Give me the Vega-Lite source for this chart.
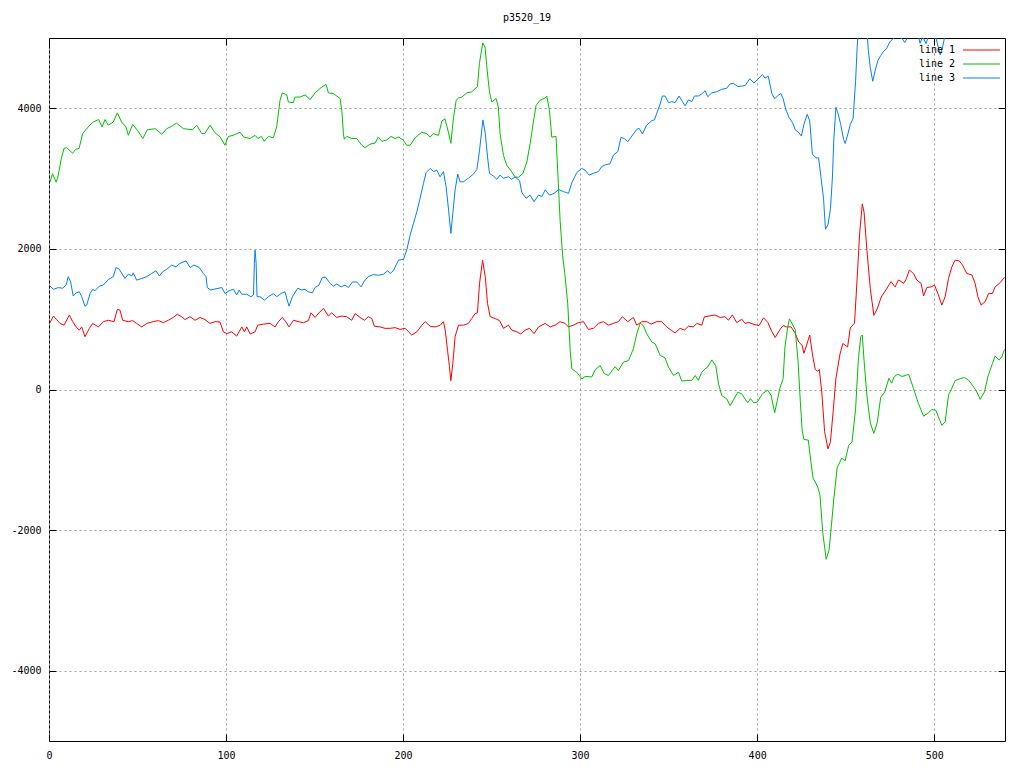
{
  "$schema": "https://vega.github.io/schema/vega-lite/v6.json",
  "width": 956,
  "height": 703,
  "autosize": {"type": "none"},
  "padding": {"left": 49, "top": 38, "right": 19, "bottom": 27},
  "background": "white",
  "title": {"text": "p3520_19", "font": "DejaVu Sans Mono", "fontSize": 10, "fontWeight": "normal", "color": "black", "offset": 15, "anchor": "middle"},
  "config": {
    "view": {"stroke": "black", "strokeWidth": 1},
    "axis": {
      "domain": false,
      "labelFont": "DejaVu Sans Mono",
      "labelFontSize": 10,
      "labelColor": "black",
      "tickColor": "black",
      "tickWidth": 1,
      "tickSize": -7,
      "gridColor": "#a0a0a0",
      "gridDash": [2, 3],
      "gridWidth": 1,
      "labelFlush": false,
      "labelOverlap": false,
      "title": null
    }
  },
  "data": {"values": [
{"s":"line 1","x":0.6,"v":950},{"s":"line 1","x":2.5,"v":1045},{"s":"line 1","x":4.3,"v":995},{"s":"line 1","x":6.2,"v":940},{"s":"line 1","x":8.5,"v":915},{"s":"line 1","x":11.5,"v":1060},{"s":"line 1","x":13.4,"v":965},{"s":"line 1","x":15.3,"v":890},{"s":"line 1","x":17.1,"v":845},{"s":"line 1","x":18.5,"v":890},{"s":"line 1","x":20.3,"v":750},{"s":"line 1","x":22.8,"v":870},{"s":"line 1","x":24.7,"v":940},{"s":"line 1","x":27.9,"v":890},{"s":"line 1","x":30.7,"v":965},{"s":"line 1","x":33.5,"v":985},{"s":"line 1","x":36.7,"v":965},{"s":"line 1","x":38.6,"v":1140},{"s":"line 1","x":40.1,"v":1130},{"s":"line 1","x":41.6,"v":985},{"s":"line 1","x":44.8,"v":965},{"s":"line 1","x":47.3,"v":980},{"s":"line 1","x":49.5,"v":940},{"s":"line 1","x":52.4,"v":890},{"s":"line 1","x":55.2,"v":940},{"s":"line 1","x":58.9,"v":965},{"s":"line 1","x":61.8,"v":980},{"s":"line 1","x":64.6,"v":950},{"s":"line 1","x":67.4,"v":985},{"s":"line 1","x":70.2,"v":1025},{"s":"line 1","x":72.5,"v":1070},{"s":"line 1","x":74.9,"v":1035},{"s":"line 1","x":76.8,"v":995},{"s":"line 1","x":79.6,"v":1035},{"s":"line 1","x":82.5,"v":985},{"s":"line 1","x":85.3,"v":1025},{"s":"line 1","x":88.1,"v":995},{"s":"line 1","x":91,"v":940},{"s":"line 1","x":93.8,"v":965},{"s":"line 1","x":96.6,"v":960},{"s":"line 1","x":98.5,"v":820},{"s":"line 1","x":100.4,"v":795},{"s":"line 1","x":103.2,"v":820},{"s":"line 1","x":106,"v":760},{"s":"line 1","x":108.9,"v":890},{"s":"line 1","x":110.4,"v":820},{"s":"line 1","x":111.7,"v":890},{"s":"line 1","x":113.6,"v":790},{"s":"line 1","x":116.4,"v":820},{"s":"line 1","x":117.9,"v":915},{"s":"line 1","x":121.1,"v":930},{"s":"line 1","x":124.9,"v":940},{"s":"line 1","x":127.7,"v":890},{"s":"line 1","x":129.6,"v":965},{"s":"line 1","x":131.8,"v":1025},{"s":"line 1","x":133.7,"v":965},{"s":"line 1","x":135.6,"v":890},{"s":"line 1","x":138.1,"v":985},{"s":"line 1","x":140.9,"v":965},{"s":"line 1","x":143.7,"v":950},{"s":"line 1","x":146.5,"v":980},{"s":"line 1","x":148,"v":1090},{"s":"line 1","x":150.3,"v":1025},{"s":"line 1","x":152.5,"v":1090},{"s":"line 1","x":155,"v":1155},{"s":"line 1","x":157.8,"v":1045},{"s":"line 1","x":159.7,"v":1090},{"s":"line 1","x":162.5,"v":1025},{"s":"line 1","x":165.4,"v":1045},{"s":"line 1","x":168.2,"v":1035},{"s":"line 1","x":171,"v":985},{"s":"line 1","x":172.9,"v":1080},{"s":"line 1","x":175.7,"v":1025},{"s":"line 1","x":178.2,"v":985},{"s":"line 1","x":180.4,"v":1035},{"s":"line 1","x":182.3,"v":1010},{"s":"line 1","x":183.8,"v":900},{"s":"line 1","x":187,"v":890},{"s":"line 1","x":189.8,"v":870},{"s":"line 1","x":192.7,"v":870},{"s":"line 1","x":195.5,"v":880},{"s":"line 1","x":198.3,"v":855},{"s":"line 1","x":201.2,"v":870},{"s":"line 1","x":203.1,"v":820},{"s":"line 1","x":204.9,"v":775},{"s":"line 1","x":207.8,"v":820},{"s":"line 1","x":210.6,"v":915},{"s":"line 1","x":212.5,"v":965},{"s":"line 1","x":215.3,"v":900},{"s":"line 1","x":218.1,"v":890},{"s":"line 1","x":221,"v":915},{"s":"line 1","x":222.8,"v":965},{"s":"line 1","x":223.8,"v":845},{"s":"line 1","x":225.1,"v":560},{"s":"line 1","x":226.2,"v":325},{"s":"line 1","x":227,"v":125},{"s":"line 1","x":228.1,"v":370},{"s":"line 1","x":229.4,"v":750},{"s":"line 1","x":231.3,"v":915},{"s":"line 1","x":234.1,"v":915},{"s":"line 1","x":236.9,"v":940},{"s":"line 1","x":238.8,"v":1010},{"s":"line 1","x":240.7,"v":1080},{"s":"line 1","x":242,"v":1090},{"s":"line 1","x":243.2,"v":1510},{"s":"line 1","x":244.9,"v":1840},{"s":"line 1","x":246.4,"v":1605},{"s":"line 1","x":247.7,"v":1225},{"s":"line 1","x":249.2,"v":1035},{"s":"line 1","x":252,"v":1010},{"s":"line 1","x":254.5,"v":980},{"s":"line 1","x":256.7,"v":870},{"s":"line 1","x":259.5,"v":915},{"s":"line 1","x":261.4,"v":845},{"s":"line 1","x":264.3,"v":820},{"s":"line 1","x":266.5,"v":790},{"s":"line 1","x":269,"v":845},{"s":"line 1","x":271.4,"v":870},{"s":"line 1","x":274,"v":795},{"s":"line 1","x":276.5,"v":890},{"s":"line 1","x":280.3,"v":940},{"s":"line 1","x":283.1,"v":890},{"s":"line 1","x":285.9,"v":915},{"s":"line 1","x":288.7,"v":965},{"s":"line 1","x":291.5,"v":940},{"s":"line 1","x":293.4,"v":890},{"s":"line 1","x":296.2,"v":915},{"s":"line 1","x":299,"v":950},{"s":"line 1","x":301.9,"v":965},{"s":"line 1","x":304.7,"v":855},{"s":"line 1","x":307.5,"v":870},{"s":"line 1","x":310.3,"v":940},{"s":"line 1","x":313.2,"v":965},{"s":"line 1","x":316,"v":915},{"s":"line 1","x":318.8,"v":940},{"s":"line 1","x":321.6,"v":965},{"s":"line 1","x":323.9,"v":1035},{"s":"line 1","x":326.9,"v":965},{"s":"line 1","x":330.1,"v":1025},{"s":"line 1","x":332,"v":915},{"s":"line 1","x":334.8,"v":965},{"s":"line 1","x":337.6,"v":965},{"s":"line 1","x":340.1,"v":930},{"s":"line 1","x":343.3,"v":965},{"s":"line 1","x":346.1,"v":965},{"s":"line 1","x":348.9,"v":890},{"s":"line 1","x":351.4,"v":845},{"s":"line 1","x":353.6,"v":805},{"s":"line 1","x":356.5,"v":870},{"s":"line 1","x":358.9,"v":845},{"s":"line 1","x":361.2,"v":900},{"s":"line 1","x":364,"v":890},{"s":"line 1","x":365.9,"v":940},{"s":"line 1","x":368.7,"v":915},{"s":"line 1","x":370.2,"v":1035},{"s":"line 1","x":372.8,"v":1045},{"s":"line 1","x":376.2,"v":1060},{"s":"line 1","x":379.1,"v":1025},{"s":"line 1","x":381.9,"v":1035},{"s":"line 1","x":383.8,"v":985},{"s":"line 1","x":386,"v":1060},{"s":"line 1","x":388.5,"v":950},{"s":"line 1","x":391.3,"v":1000},{"s":"line 1","x":393.2,"v":940},{"s":"line 1","x":395.3,"v":955},{"s":"line 1","x":398.2,"v":925},{"s":"line 1","x":401.1,"v":910},{"s":"line 1","x":403.6,"v":1020},{"s":"line 1","x":406,"v":955},{"s":"line 1","x":408.3,"v":825},{"s":"line 1","x":410.2,"v":740},{"s":"line 1","x":412.8,"v":850},{"s":"line 1","x":414.7,"v":910},{"s":"line 1","x":416.7,"v":890},{"s":"line 1","x":419.2,"v":890},{"s":"line 1","x":421.5,"v":800},{"s":"line 1","x":423.5,"v":675},{"s":"line 1","x":425.4,"v":630},{"s":"line 1","x":426.4,"v":515},{"s":"line 1","x":427.9,"v":630},{"s":"line 1","x":429.7,"v":775},{"s":"line 1","x":431.2,"v":505},{"s":"line 1","x":432.8,"v":285},{"s":"line 1","x":434.2,"v":260},{"s":"line 1","x":435.1,"v":285},{"s":"line 1","x":436.5,"v":-35},{"s":"line 1","x":438.1,"v":-600},{"s":"line 1","x":440,"v":-845},{"s":"line 1","x":441.4,"v":-745},{"s":"line 1","x":442.9,"v":-320},{"s":"line 1","x":444.5,"v":160},{"s":"line 1","x":446.8,"v":505},{"s":"line 1","x":448.4,"v":655},{"s":"line 1","x":451.1,"v":605},{"s":"line 1","x":452.6,"v":875},{"s":"line 1","x":455,"v":945},{"s":"line 1","x":456.5,"v":1585},{"s":"line 1","x":457.9,"v":2225},{"s":"line 1","x":459.4,"v":2640},{"s":"line 1","x":460.4,"v":2520},{"s":"line 1","x":462,"v":1980},{"s":"line 1","x":463.9,"v":1440},{"s":"line 1","x":465.9,"v":1055},{"s":"line 1","x":467.8,"v":1145},{"s":"line 1","x":470.1,"v":1315},{"s":"line 1","x":473.1,"v":1430},{"s":"line 1","x":475.6,"v":1535},{"s":"line 1","x":477.9,"v":1460},{"s":"line 1","x":479.9,"v":1560},{"s":"line 1","x":482.8,"v":1510},{"s":"line 1","x":484,"v":1560},{"s":"line 1","x":486,"v":1700},{"s":"line 1","x":488.3,"v":1650},{"s":"line 1","x":490.2,"v":1555},{"s":"line 1","x":492.6,"v":1510},{"s":"line 1","x":494,"v":1330},{"s":"line 1","x":495.8,"v":1450},{"s":"line 1","x":498.3,"v":1460},{"s":"line 1","x":500.2,"v":1485},{"s":"line 1","x":502.4,"v":1345},{"s":"line 1","x":504.3,"v":1200},{"s":"line 1","x":506.2,"v":1320},{"s":"line 1","x":508.1,"v":1580},{"s":"line 1","x":510,"v":1745},{"s":"line 1","x":511.8,"v":1840},{"s":"line 1","x":514.1,"v":1830},{"s":"line 1","x":516,"v":1770},{"s":"line 1","x":518.4,"v":1650},{"s":"line 1","x":521.3,"v":1630},{"s":"line 1","x":523.1,"v":1510},{"s":"line 1","x":524.7,"v":1320},{"s":"line 1","x":526.5,"v":1200},{"s":"line 1","x":528.8,"v":1250},{"s":"line 1","x":530.7,"v":1365},{"s":"line 1","x":532.9,"v":1365},{"s":"line 1","x":534.4,"v":1460},{"s":"line 1","x":537.3,"v":1520},{"s":"line 1","x":539.7,"v":1595},
{"s":"line 2","x":0.6,"v":2950},{"s":"line 2","x":2,"v":3070},{"s":"line 2","x":4,"v":2950},{"s":"line 2","x":5,"v":3020},{"s":"line 2","x":7,"v":3290},{"s":"line 2","x":8.5,"v":3430},{"s":"line 2","x":10,"v":3440},{"s":"line 2","x":13.4,"v":3360},{"s":"line 2","x":15,"v":3415},{"s":"line 2","x":17,"v":3430},{"s":"line 2","x":19,"v":3640},{"s":"line 2","x":21,"v":3700},{"s":"line 2","x":23,"v":3760},{"s":"line 2","x":25,"v":3805},{"s":"line 2","x":28,"v":3840},{"s":"line 2","x":30,"v":3735},{"s":"line 2","x":31.6,"v":3840},{"s":"line 2","x":33.5,"v":3760},{"s":"line 2","x":36.3,"v":3805},{"s":"line 2","x":38.6,"v":3935},{"s":"line 2","x":41,"v":3805},{"s":"line 2","x":43.5,"v":3735},{"s":"line 2","x":44.8,"v":3615},{"s":"line 2","x":47.3,"v":3770},{"s":"line 2","x":50,"v":3685},{"s":"line 2","x":53,"v":3570},{"s":"line 2","x":55.5,"v":3695},{"s":"line 2","x":60,"v":3710},{"s":"line 2","x":63.7,"v":3630},{"s":"line 2","x":66.5,"v":3710},{"s":"line 2","x":69.3,"v":3745},{"s":"line 2","x":72,"v":3790},{"s":"line 2","x":75.9,"v":3710},{"s":"line 2","x":81,"v":3695},{"s":"line 2","x":83.4,"v":3760},{"s":"line 2","x":86.3,"v":3640},{"s":"line 2","x":88,"v":3640},{"s":"line 2","x":91,"v":3760},{"s":"line 2","x":93.8,"v":3650},{"s":"line 2","x":96.6,"v":3595},{"s":"line 2","x":99.4,"v":3475},{"s":"line 2","x":101.3,"v":3600},{"s":"line 2","x":104,"v":3615},{"s":"line 2","x":108,"v":3660},{"s":"line 2","x":110,"v":3590},{"s":"line 2","x":113.6,"v":3570},{"s":"line 2","x":116.4,"v":3615},{"s":"line 2","x":118,"v":3570},{"s":"line 2","x":120,"v":3600},{"s":"line 2","x":121.6,"v":3530},{"s":"line 2","x":124,"v":3600},{"s":"line 2","x":126.7,"v":3580},{"s":"line 2","x":128.6,"v":3735},{"s":"line 2","x":130.5,"v":4115},{"s":"line 2","x":131.8,"v":4220},{"s":"line 2","x":134.3,"v":4190},{"s":"line 2","x":135.2,"v":4090},{"s":"line 2","x":138,"v":4080},{"s":"line 2","x":139,"v":4160},{"s":"line 2","x":141.8,"v":4160},{"s":"line 2","x":144.6,"v":4190},{"s":"line 2","x":147.5,"v":4125},{"s":"line 2","x":150.3,"v":4220},{"s":"line 2","x":153.7,"v":4295},{"s":"line 2","x":156.5,"v":4340},{"s":"line 2","x":157.8,"v":4220},{"s":"line 2","x":160.6,"v":4210},{"s":"line 2","x":164.4,"v":4140},{"s":"line 2","x":165.4,"v":3970},{"s":"line 2","x":166.3,"v":3640},{"s":"line 2","x":166.8,"v":3560},{"s":"line 2","x":168.2,"v":3600},{"s":"line 2","x":171,"v":3570},{"s":"line 2","x":173.8,"v":3570},{"s":"line 2","x":176.7,"v":3475},{"s":"line 2","x":178.5,"v":3440},{"s":"line 2","x":181.4,"v":3490},{"s":"line 2","x":184.2,"v":3505},{"s":"line 2","x":186,"v":3590},{"s":"line 2","x":188,"v":3530},{"s":"line 2","x":190.8,"v":3550},{"s":"line 2","x":193.2,"v":3600},{"s":"line 2","x":195.5,"v":3570},{"s":"line 2","x":197.6,"v":3590},{"s":"line 2","x":200.2,"v":3545},{"s":"line 2","x":202,"v":3475},{"s":"line 2","x":204,"v":3475},{"s":"line 2","x":206.8,"v":3580},{"s":"line 2","x":210.5,"v":3660},{"s":"line 2","x":213.4,"v":3640},{"s":"line 2","x":215.3,"v":3590},{"s":"line 2","x":217,"v":3640},{"s":"line 2","x":220,"v":3615},{"s":"line 2","x":221.9,"v":3820},{"s":"line 2","x":223.7,"v":3850},{"s":"line 2","x":225.6,"v":3660},{"s":"line 2","x":227,"v":3500},{"s":"line 2","x":228.4,"v":3850},{"s":"line 2","x":230,"v":4115},{"s":"line 2","x":231.3,"v":4145},{"s":"line 2","x":233.2,"v":4160},{"s":"line 2","x":236,"v":4220},{"s":"line 2","x":238.8,"v":4235},{"s":"line 2","x":240.7,"v":4280},{"s":"line 2","x":242,"v":4305},{"s":"line 2","x":243.1,"v":4635},{"s":"line 2","x":245,"v":4930},{"s":"line 2","x":246.3,"v":4870},{"s":"line 2","x":247.3,"v":4590},{"s":"line 2","x":248.8,"v":4235},{"s":"line 2","x":250.1,"v":4090},{"s":"line 2","x":252.5,"v":4140},{"s":"line 2","x":253.8,"v":4020},{"s":"line 2","x":254.8,"v":3640},{"s":"line 2","x":256.7,"v":3330},{"s":"line 2","x":258.6,"v":3190},{"s":"line 2","x":261.4,"v":3095},{"s":"line 2","x":263.3,"v":3020},{"s":"line 2","x":265.2,"v":3020},{"s":"line 2","x":267.6,"v":3070},{"s":"line 2","x":269.9,"v":3235},{"s":"line 2","x":271.8,"v":3500},{"s":"line 2","x":273.6,"v":3805},{"s":"line 2","x":275.1,"v":4040},{"s":"line 2","x":277.4,"v":4115},{"s":"line 2","x":279.7,"v":4140},{"s":"line 2","x":281.2,"v":4170},{"s":"line 2","x":282.7,"v":3970},{"s":"line 2","x":284,"v":3590},{"s":"line 2","x":286.4,"v":3600},{"s":"line 2","x":287.7,"v":2930},{"s":"line 2","x":288.7,"v":2405},{"s":"line 2","x":290.2,"v":1885},{"s":"line 2","x":291.5,"v":1620},{"s":"line 2","x":293,"v":1220},{"s":"line 2","x":294.4,"v":555},{"s":"line 2","x":295.3,"v":295},{"s":"line 2","x":298.1,"v":245},{"s":"line 2","x":301,"v":150},{"s":"line 2","x":302.8,"v":185},{"s":"line 2","x":306.6,"v":180},{"s":"line 2","x":308.5,"v":280},{"s":"line 2","x":311.3,"v":340},{"s":"line 2","x":313.7,"v":225},{"s":"line 2","x":316,"v":200},{"s":"line 2","x":319.8,"v":325},{"s":"line 2","x":321.6,"v":270},{"s":"line 2","x":324.5,"v":390},{"s":"line 2","x":327.3,"v":410},{"s":"line 2","x":330.1,"v":580},{"s":"line 2","x":332,"v":790},{"s":"line 2","x":333.9,"v":945},{"s":"line 2","x":335.8,"v":905},{"s":"line 2","x":337.7,"v":790},{"s":"line 2","x":340.5,"v":675},{"s":"line 2","x":342.4,"v":650},{"s":"line 2","x":345.2,"v":485},{"s":"line 2","x":348,"v":450},{"s":"line 2","x":349.9,"v":320},{"s":"line 2","x":352.7,"v":200},{"s":"line 2","x":355.6,"v":245},{"s":"line 2","x":357.4,"v":120},{"s":"line 2","x":360.3,"v":130},{"s":"line 2","x":363.1,"v":130},{"s":"line 2","x":365,"v":200},{"s":"line 2","x":366.8,"v":130},{"s":"line 2","x":368.7,"v":245},{"s":"line 2","x":370.6,"v":295},{"s":"line 2","x":372.1,"v":320},{"s":"line 2","x":374.4,"v":420},{"s":"line 2","x":376.6,"v":340},{"s":"line 2","x":378.2,"v":80},{"s":"line 2","x":380,"v":-85},{"s":"line 2","x":382.9,"v":-135},{"s":"line 2","x":384.7,"v":-230},{"s":"line 2","x":386.6,"v":-150},{"s":"line 2","x":389,"v":-40},{"s":"line 2","x":391.3,"v":-60},{"s":"line 2","x":393.3,"v":-140},{"s":"line 2","x":394.7,"v":-190},{"s":"line 2","x":396.2,"v":-130},{"s":"line 2","x":398.2,"v":-190},{"s":"line 2","x":400.1,"v":-180},{"s":"line 2","x":403,"v":-60},{"s":"line 2","x":406,"v":-10},{"s":"line 2","x":407.9,"v":-85},{"s":"line 2","x":409.9,"v":-330},{"s":"line 2","x":411.4,"v":-155},{"s":"line 2","x":412.8,"v":15},{"s":"line 2","x":414.7,"v":160},{"s":"line 2","x":415.7,"v":605},{"s":"line 2","x":417.2,"v":875},{"s":"line 2","x":418.2,"v":1005},{"s":"line 2","x":419.6,"v":945},{"s":"line 2","x":421.5,"v":850},{"s":"line 2","x":423.1,"v":405},{"s":"line 2","x":424.4,"v":-180},{"s":"line 2","x":425.4,"v":-575},{"s":"line 2","x":426.4,"v":-710},{"s":"line 2","x":428.9,"v":-720},{"s":"line 2","x":430.3,"v":-1015},{"s":"line 2","x":431.6,"v":-1260},{"s":"line 2","x":434.2,"v":-1385},{"s":"line 2","x":435.5,"v":-1505},{"s":"line 2","x":437.1,"v":-2045},{"s":"line 2","x":439,"v":-2415},{"s":"line 2","x":440.6,"v":-2290},{"s":"line 2","x":441.9,"v":-1950},{"s":"line 2","x":443.3,"v":-1555},{"s":"line 2","x":445.2,"v":-1115},{"s":"line 2","x":447.8,"v":-975},{"s":"line 2","x":449.7,"v":-1015},{"s":"line 2","x":451.7,"v":-795},{"s":"line 2","x":453.6,"v":-745},{"s":"line 2","x":455.6,"v":-280},{"s":"line 2","x":457.1,"v":405},{"s":"line 2","x":458.5,"v":750},{"s":"line 2","x":459.4,"v":775},{"s":"line 2","x":460.4,"v":405},{"s":"line 2","x":462,"v":-85},{"s":"line 2","x":463.9,"v":-475},{"s":"line 2","x":465.9,"v":-625},{"s":"line 2","x":467.8,"v":-475},{"s":"line 2","x":469.8,"v":-110},{"s":"line 2","x":472.1,"v":-35},{"s":"line 2","x":474.4,"v":160},{"s":"line 2","x":476,"v":90},{"s":"line 2","x":477.5,"v":185},{"s":"line 2","x":479.5,"v":220},{"s":"line 2","x":481.8,"v":185},{"s":"line 2","x":483.7,"v":200},{"s":"line 2","x":485.6,"v":215},{"s":"line 2","x":488.3,"v":15},{"s":"line 2","x":491.1,"v":-200},{"s":"line 2","x":494,"v":-380},{"s":"line 2","x":496.8,"v":-330},{"s":"line 2","x":498.7,"v":-285},{"s":"line 2","x":500.9,"v":-295},{"s":"line 2","x":502.4,"v":-390},{"s":"line 2","x":504.3,"v":-510},{"s":"line 2","x":506.2,"v":-460},{"s":"line 2","x":508.1,"v":-80},{"s":"line 2","x":509.9,"v":15},{"s":"line 2","x":511.8,"v":125},{"s":"line 2","x":514.7,"v":155},{"s":"line 2","x":517.1,"v":170},{"s":"line 2","x":519.4,"v":135},{"s":"line 2","x":522.2,"v":40},{"s":"line 2","x":524.1,"v":-35},{"s":"line 2","x":526,"v":-140},{"s":"line 2","x":528.4,"v":-35},{"s":"line 2","x":530.3,"v":180},{"s":"line 2","x":532.9,"v":370},{"s":"line 2","x":534.4,"v":475},{"s":"line 2","x":536.7,"v":420},{"s":"line 2","x":538.2,"v":465},{"s":"line 2","x":539.7,"v":570},
{"s":"line 3","x":0.6,"v":1470},{"s":"line 3","x":2.5,"v":1425},{"s":"line 3","x":5.3,"v":1450},{"s":"line 3","x":7.7,"v":1440},{"s":"line 3","x":9.6,"v":1485},{"s":"line 3","x":10.9,"v":1605},{"s":"line 3","x":12.2,"v":1530},{"s":"line 3","x":13.7,"v":1330},{"s":"line 3","x":15.3,"v":1375},{"s":"line 3","x":17.1,"v":1390},{"s":"line 3","x":18.5,"v":1320},{"s":"line 3","x":20.3,"v":1185},{"s":"line 3","x":21.3,"v":1200},{"s":"line 3","x":23.2,"v":1365},{"s":"line 3","x":24.7,"v":1425},{"s":"line 3","x":26,"v":1405},{"s":"line 3","x":28.4,"v":1470},{"s":"line 3","x":30.7,"v":1485},{"s":"line 3","x":33.5,"v":1565},{"s":"line 3","x":36.3,"v":1605},{"s":"line 3","x":37.9,"v":1735},{"s":"line 3","x":39.7,"v":1710},{"s":"line 3","x":42.9,"v":1580},{"s":"line 3","x":44.8,"v":1640},{"s":"line 3","x":46.7,"v":1615},{"s":"line 3","x":47.6,"v":1660},{"s":"line 3","x":49.5,"v":1555},{"s":"line 3","x":52.4,"v":1580},{"s":"line 3","x":55.2,"v":1605},{"s":"line 3","x":58,"v":1650},{"s":"line 3","x":60.4,"v":1690},{"s":"line 3","x":62.3,"v":1615},{"s":"line 3","x":64.2,"v":1675},{"s":"line 3","x":66.5,"v":1710},{"s":"line 3","x":69.3,"v":1770},{"s":"line 3","x":71.7,"v":1745},{"s":"line 3","x":74,"v":1795},{"s":"line 3","x":77.4,"v":1830},{"s":"line 3","x":79.7,"v":1735},{"s":"line 3","x":81.9,"v":1770},{"s":"line 3","x":84.9,"v":1735},{"s":"line 3","x":87.2,"v":1650},{"s":"line 3","x":88.7,"v":1605},{"s":"line 3","x":89.4,"v":1450},{"s":"line 3","x":91.3,"v":1415},{"s":"line 3","x":93.8,"v":1430},{"s":"line 3","x":97.6,"v":1450},{"s":"line 3","x":99.4,"v":1365},{"s":"line 3","x":101.7,"v":1405},{"s":"line 3","x":104.2,"v":1425},{"s":"line 3","x":106,"v":1345},{"s":"line 3","x":107.4,"v":1415},{"s":"line 3","x":108.9,"v":1355},{"s":"line 3","x":111.7,"v":1355},{"s":"line 3","x":114.1,"v":1320},{"s":"line 3","x":115.5,"v":1345},{"s":"line 3","x":116,"v":1795},{"s":"line 3","x":116.4,"v":1985},{"s":"line 3","x":117,"v":1795},{"s":"line 3","x":117.5,"v":1320},{"s":"line 3","x":119.2,"v":1320},{"s":"line 3","x":121.7,"v":1270},{"s":"line 3","x":123.9,"v":1320},{"s":"line 3","x":126.8,"v":1365},{"s":"line 3","x":128.6,"v":1320},{"s":"line 3","x":131.1,"v":1365},{"s":"line 3","x":133.3,"v":1390},{"s":"line 3","x":134.3,"v":1295},{"s":"line 3","x":135.6,"v":1185},{"s":"line 3","x":137.5,"v":1320},{"s":"line 3","x":140.5,"v":1440},{"s":"line 3","x":142.8,"v":1415},{"s":"line 3","x":144.6,"v":1425},{"s":"line 3","x":146.5,"v":1390},{"s":"line 3","x":148.8,"v":1375},{"s":"line 3","x":150.3,"v":1450},{"s":"line 3","x":152.5,"v":1485},{"s":"line 3","x":154.4,"v":1595},{"s":"line 3","x":156.3,"v":1595},{"s":"line 3","x":158.8,"v":1510},{"s":"line 3","x":160.6,"v":1470},{"s":"line 3","x":162.5,"v":1500},{"s":"line 3","x":165,"v":1460},{"s":"line 3","x":167.2,"v":1485},{"s":"line 3","x":169.1,"v":1450},{"s":"line 3","x":171.4,"v":1530},{"s":"line 3","x":173.8,"v":1530},{"s":"line 3","x":176.3,"v":1460},{"s":"line 3","x":178.2,"v":1545},{"s":"line 3","x":180.4,"v":1605},{"s":"line 3","x":183.2,"v":1635},{"s":"line 3","x":186,"v":1625},{"s":"line 3","x":188.9,"v":1640},{"s":"line 3","x":191.3,"v":1690},{"s":"line 3","x":192.7,"v":1650},{"s":"line 3","x":194.5,"v":1690},{"s":"line 3","x":195.5,"v":1740},{"s":"line 3","x":197.4,"v":1840},{"s":"line 3","x":200.2,"v":1850},{"s":"line 3","x":202.1,"v":1985},{"s":"line 3","x":204,"v":2195},{"s":"line 3","x":205.9,"v":2365},{"s":"line 3","x":207.8,"v":2530},{"s":"line 3","x":209.6,"v":2720},{"s":"line 3","x":211.5,"v":2930},{"s":"line 3","x":213,"v":3085},{"s":"line 3","x":215.3,"v":3145},{"s":"line 3","x":217.2,"v":3100},{"s":"line 3","x":219.1,"v":3120},{"s":"line 3","x":220.9,"v":3025},{"s":"line 3","x":222.8,"v":3100},{"s":"line 3","x":224.3,"v":2885},{"s":"line 3","x":225.7,"v":2555},{"s":"line 3","x":227,"v":2220},{"s":"line 3","x":228.1,"v":2505},{"s":"line 3","x":229.4,"v":2840},{"s":"line 3","x":230.9,"v":3065},{"s":"line 3","x":232.2,"v":2955},{"s":"line 3","x":234.1,"v":2955},{"s":"line 3","x":236.9,"v":3005},{"s":"line 3","x":239.8,"v":3065},{"s":"line 3","x":241.7,"v":3130},{"s":"line 3","x":243.2,"v":3405},{"s":"line 3","x":245.1,"v":3835},{"s":"line 3","x":246.4,"v":3645},{"s":"line 3","x":247.7,"v":3310},{"s":"line 3","x":248.8,"v":3075},{"s":"line 3","x":251.1,"v":3035},{"s":"line 3","x":253,"v":2990},{"s":"line 3","x":254.8,"v":3050},{"s":"line 3","x":256.7,"v":3005},{"s":"line 3","x":259.5,"v":3025},{"s":"line 3","x":261.4,"v":2990},{"s":"line 3","x":263.3,"v":3025},{"s":"line 3","x":265.8,"v":2970},{"s":"line 3","x":267.1,"v":2800},{"s":"line 3","x":269.5,"v":2720},{"s":"line 3","x":271.8,"v":2765},{"s":"line 3","x":274,"v":2670},{"s":"line 3","x":276.5,"v":2765},{"s":"line 3","x":278.4,"v":2745},{"s":"line 3","x":280.3,"v":2840},{"s":"line 3","x":282.7,"v":2765},{"s":"line 3","x":285.3,"v":2790},{"s":"line 3","x":287.8,"v":2845},{"s":"line 3","x":290.6,"v":2815},{"s":"line 3","x":292.5,"v":2800},{"s":"line 3","x":293.5,"v":2790},{"s":"line 3","x":295.3,"v":2940},{"s":"line 3","x":298.1,"v":3085},{"s":"line 3","x":300.9,"v":3145},{"s":"line 3","x":302.8,"v":3120},{"s":"line 3","x":305.1,"v":3050},{"s":"line 3","x":307.5,"v":3075},{"s":"line 3","x":310.3,"v":3100},{"s":"line 3","x":312.2,"v":3170},{"s":"line 3","x":314.1,"v":3195},{"s":"line 3","x":316.9,"v":3210},{"s":"line 3","x":318.8,"v":3335},{"s":"line 3","x":321.3,"v":3385},{"s":"line 3","x":323.1,"v":3585},{"s":"line 3","x":325,"v":3570},{"s":"line 3","x":326.9,"v":3525},{"s":"line 3","x":329.2,"v":3605},{"s":"line 3","x":332,"v":3700},{"s":"line 3","x":333.3,"v":3715},{"s":"line 3","x":335.2,"v":3635},{"s":"line 3","x":337.6,"v":3760},{"s":"line 3","x":340.5,"v":3825},{"s":"line 3","x":342,"v":3835},{"s":"line 3","x":343.3,"v":3930},{"s":"line 3","x":345.2,"v":4060},{"s":"line 3","x":346.5,"v":4175},{"s":"line 3","x":348,"v":4175},{"s":"line 3","x":349.9,"v":4080},{"s":"line 3","x":351.8,"v":4095},{"s":"line 3","x":353.6,"v":4080},{"s":"line 3","x":355.9,"v":4175},{"s":"line 3","x":357.8,"v":4095},{"s":"line 3","x":359.3,"v":4035},{"s":"line 3","x":361.2,"v":4120},{"s":"line 3","x":363.1,"v":4095},{"s":"line 3","x":364.6,"v":4175},{"s":"line 3","x":366.8,"v":4175},{"s":"line 3","x":368.7,"v":4205},{"s":"line 3","x":370.6,"v":4250},{"s":"line 3","x":372.1,"v":4165},{"s":"line 3","x":374.4,"v":4220},{"s":"line 3","x":377.2,"v":4235},{"s":"line 3","x":380,"v":4270},{"s":"line 3","x":382.8,"v":4285},{"s":"line 3","x":384.7,"v":4345},{"s":"line 3","x":386.6,"v":4355},{"s":"line 3","x":389,"v":4310},{"s":"line 3","x":391.3,"v":4315},{"s":"line 3","x":393.3,"v":4325},{"s":"line 3","x":395.8,"v":4420},{"s":"line 3","x":398.2,"v":4360},{"s":"line 3","x":401.1,"v":4430},{"s":"line 3","x":403,"v":4480},{"s":"line 3","x":404.4,"v":4430},{"s":"line 3","x":406.3,"v":4455},{"s":"line 3","x":408.3,"v":4210},{"s":"line 3","x":409.9,"v":4135},{"s":"line 3","x":411.8,"v":4185},{"s":"line 3","x":413.4,"v":4210},{"s":"line 3","x":414.7,"v":4135},{"s":"line 3","x":416.1,"v":3990},{"s":"line 3","x":418,"v":3870},{"s":"line 3","x":420,"v":3795},{"s":"line 3","x":421.5,"v":3695},{"s":"line 3","x":423.5,"v":3655},{"s":"line 3","x":425,"v":3605},{"s":"line 3","x":426.4,"v":3770},{"s":"line 3","x":428.3,"v":3915},{"s":"line 3","x":429.7,"v":3820},{"s":"line 3","x":431.2,"v":3350},{"s":"line 3","x":433.2,"v":3295},{"s":"line 3","x":434.7,"v":3295},{"s":"line 3","x":436.1,"v":3010},{"s":"line 3","x":437.5,"v":2715},{"s":"line 3","x":438.6,"v":2280},{"s":"line 3","x":440,"v":2345},{"s":"line 3","x":441.4,"v":2565},{"s":"line 3","x":442.5,"v":3010},{"s":"line 3","x":443.3,"v":3550},{"s":"line 3","x":444.5,"v":4015},{"s":"line 3","x":445.8,"v":3915},{"s":"line 3","x":447.2,"v":3770},{"s":"line 3","x":448.8,"v":3560},{"s":"line 3","x":449.7,"v":3500},{"s":"line 3","x":451.1,"v":3620},{"s":"line 3","x":452.6,"v":3770},{"s":"line 3","x":454.2,"v":3855},{"s":"line 3","x":455.6,"v":4385},{"s":"line 3","x":456.5,"v":4875},{"s":"line 3","x":457.3,"v":5150},{"s":"line 3","x":458.9,"v":5400},{"s":"line 3","x":460.5,"v":5400},{"s":"line 3","x":462,"v":5120},{"s":"line 3","x":462.8,"v":4825},{"s":"line 3","x":463.9,"v":4580},{"s":"line 3","x":465.3,"v":4385},{"s":"line 3","x":466.6,"v":4530},{"s":"line 3","x":468.2,"v":4680},{"s":"line 3","x":469.8,"v":4750},{"s":"line 3","x":471.1,"v":4800},{"s":"line 3","x":473.1,"v":4850},{"s":"line 3","x":475,"v":4945},{"s":"line 3","x":476.9,"v":4995},{"s":"line 3","x":478.9,"v":5020},{"s":"line 3","x":481.8,"v":4995},{"s":"line 3","x":483.4,"v":4935},{"s":"line 3","x":485.7,"v":5045},{"s":"line 3","x":487.7,"v":5095},{"s":"line 3","x":490,"v":5150},{"s":"line 3","x":492,"v":4925},{"s":"line 3","x":493.5,"v":5020},{"s":"line 3","x":495.4,"v":4920},{"s":"line 3","x":497,"v":5050},{"s":"line 3","x":500,"v":5100},{"s":"line 3","x":502,"v":4900},{"s":"line 3","x":503.4,"v":4760},{"s":"line 3","x":505,"v":4900},{"s":"line 3","x":507,"v":5150},{"s":"line 3","x":510,"v":5300},{"s":"line 3","x":515,"v":5400},{"s":"line 3","x":520,"v":5450},{"s":"line 3","x":525,"v":5400},{"s":"line 3","x":530,"v":5500},{"s":"line 3","x":535,"v":5450},{"s":"line 3","x":540,"v":5500}
  ]},
  "layer": [
    {
      "mark": {"type": "line", "clip": true, "strokeWidth": 1, "interpolate": "linear"},
      "encoding": {
        "x": {"field": "x", "type": "quantitative", "scale": {"domain": [0, 540], "nice": false, "zero": false},
              "axis": {"orient": "bottom", "values": [0, 100, 200, 300, 400, 500], "grid": true, "labelPadding": 16, "labelExpr": "'' + datum.value"}},
        "y": {"field": "v", "type": "quantitative", "scale": {"domain": [-5000, 5000], "nice": false, "zero": false},
              "axis": {"orient": "left", "values": [-4000, -2000, 0, 2000, 4000], "grid": true, "labelPadding": 15, "labelExpr": "'' + datum.value"}},
        "color": {"field": "s", "type": "nominal",
                  "scale": {"domain": ["line 1", "line 2", "line 3"], "range": ["#ff0000", "#00c000", "#0080ff"]},
                  "legend": {"orient": "none", "legendX": 925.5, "legendY": 5, "title": null, "symbolType": "M-2.85,0H2.85", "symbolSize": 169, "symbolStrokeWidth": 1, "symbolOffset": 0, "labelFont": "DejaVu Sans Mono", "labelFontSize": 10, "labelColor": "black", "labelAlign": "right", "labelOffset": -33.5, "rowPadding": 2, "padding": 0}}
      }
    },
    {
      "mark": {"type": "point", "opacity": 0, "clip": true},
      "encoding": {
        "x": {"field": "x", "type": "quantitative", "scale": {"domain": [0, 540], "nice": false, "zero": false},
              "axis": {"orient": "top", "values": [0, 100, 200, 300, 400, 500], "grid": false, "labels": false}},
        "y": {"field": "v", "type": "quantitative", "scale": {"domain": [-5000, 5000], "nice": false, "zero": false},
              "axis": {"orient": "right", "values": [-4000, -2000, 0, 2000, 4000], "grid": false, "labels": false}}
      }
    }
  ],
  "resolve": {"scale": {"x": "independent", "y": "independent"}}
}
